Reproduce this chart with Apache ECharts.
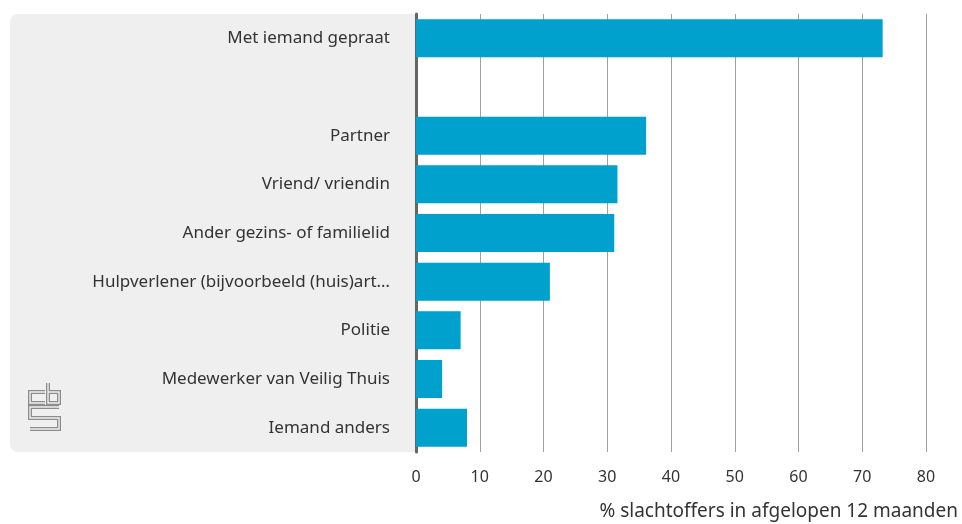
<!DOCTYPE html>
<html>
<head>
<meta charset="utf-8">
<title>Met iemand gepraat</title>
<script src="https://cdn.jsdelivr.net/npm/echarts@6/dist/echarts.min.js"></script>
<style>
	html, body { margin: 0; padding: 0; background: #ffffff; }
	#chart { width: 962px; height: 524px; }
</style>
</head>
<body>
<div id="chart"></div>
<script>
// categories, top to bottom (empty one is the gap after the total)
var categories = [
	'Met iemand gepraat',
	'',
	'Partner',
	'Vriend/ vriendin',
	'Ander gezins- of familielid',
	'Hulpverlener (bijvoorbeeld (huis)art\u2026',
	'Politie',
	'Medewerker van Veilig Thuis',
	'Iemand anders'
];
// % slachtoffers
var values = [73.2, null, 36.1, 31.6, 31.1, 21.0, 7.0, 4.1, 8.0];
var axisTicks = [0, 10, 20, 30, 40, 50, 60, 70, 80];

var font = 'Noto Sans';
var chart = echarts.init(document.getElementById('chart'));

// cbs logo, drawn as a double line
function logoPart(points) {
	return [
		{ type: 'polyline', z: -5, silent: true, shape: { points: points },
		  style: { stroke: '#8c8c8c', lineWidth: 4, fill: null } },
		{ type: 'polyline', z: -4, silent: true, shape: { points: points },
		  style: { stroke: '#efefef', lineWidth: 1.4, fill: null } }
	];
}
var logo = [].concat(
	logoPart([[45, 392], [30, 392], [30, 403], [45, 403]]),
	logoPart([[48, 383], [48, 403], [59, 403], [59, 392], [48, 392]]),
	logoPart([[59, 407], [30, 407], [30, 418], [59, 418], [59, 429], [30, 429]])
);

var option = {
	animation: false,
	textStyle: { fontFamily: font },
	grid: { left: 416, right: 36, top: 14, bottom: 72, containLabel: false },
	graphic: [
		{ type: 'rect', z: -10, silent: true,
		  shape: { x: 10, y: 14, width: 406, height: 438, r: [8, 0, 0, 8] },
		  style: { fill: '#efefef' } }
	].concat(logo),
	xAxis: {
		type: 'value',
		min: axisTicks[0],
		max: axisTicks[axisTicks.length - 1],
		interval: 10,
		axisLine: { show: false },
		axisTick: { show: false },
		splitLine: { lineStyle: { color: '#a0a0a0', width: 1 } },
		axisLabel: { color: '#333333', fontSize: 16, margin: 17, fontFamily: font },
		name: '% slachtoffers in afgelopen 12 maanden',
		nameLocation: 'end',
		nameGap: 32,
		nameTextStyle: {
			color: '#333333', fontSize: 19, fontFamily: font,
			align: 'right', verticalAlign: 'top', padding: [50, 0, 0, 0]
		}
	},
	yAxis: {
		type: 'category',
		inverse: true,
		data: categories,
		axisLine: { show: true, lineStyle: { color: '#666666', width: 3 } },
		axisTick: { show: false },
		splitLine: { show: false },
		axisLabel: { color: '#333333', fontSize: 17, margin: 26, fontFamily: font }
	},
	series: [{
		type: 'bar',
		data: values,
		barWidth: 38,
		itemStyle: { color: '#00a1cd' }
	}]
};
chart.setOption(option);
</script>
</body>
</html>
